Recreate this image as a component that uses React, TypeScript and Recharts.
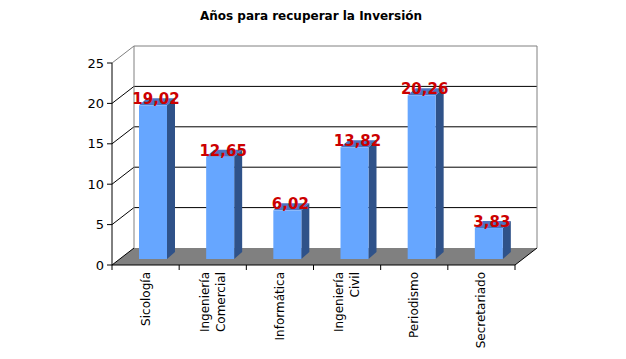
import React from "react";
import { BarChart, Bar, XAxis, YAxis, CartesianGrid, LabelList } from "recharts";

const categories = ["Sicología", "Ingeniería\nComercial", "Informática", "Ingeniería\nCivil", "Periodismo", "Secretariado"];
const years = [19.02, 12.65, 6.02, 13.82, 20.26, 3.83];
const yTicks = [0, 5, 10, 15, 20, 25];

const data = categories.map((c, i) => ({ name: c, value: years[i] }));

const FONT = "'DejaVu Sans', Verdana, sans-serif";
// depth of the back wall and position of the bars inside it
const DX = 22;
const DY = 17;
const BX = 7;
const BY = 6;
const BD = 8;
const BDY = 7;

const Bar3D = (props: any) => {
  const { x, y, width, height } = props;
  const fx = x + BX;
  const fy = y - BY;
  return (
    <g>
      <polygon
        points={`${fx},${fy} ${fx + BD},${fy - BDY} ${fx + width + BD},${fy - BDY} ${fx + width},${fy}`}
        fill="#4d74c2"
      />
      <polygon
        points={`${fx + width},${fy} ${fx + width + BD},${fy - BDY} ${fx + width + BD},${fy - BDY + height} ${fx + width},${fy + height}`}
        fill="#2f5289"
      />
      <rect x={fx} y={fy} width={width} height={height} fill="#66a6ff" />
    </g>
  );
};

const GridLine = (props: any) => {
  const { x1, y1, x2, index } = props;
  const top = props.y ?? 63;
  const bottom = top + (props.height ?? 202);
  const isTop = Math.abs(y1 - top) < 1;
  const isFloor = Math.abs(y1 - bottom) < 1;
  const col = isTop ? "#808080" : "#000";
  return (
    <g key={`g-${index}`}>
      {isFloor && (
        <polygon
          points={`${x1},${y1} ${x2},${y1} ${x2 + DX},${y1 - DY} ${x1 + DX},${y1 - DY}`}
          fill="#808080"
        />
      )}
      {isTop && (
        <>
          <line x1={x1 + DX} y1={y1 - DY} x2={x1 + DX} y2={bottom - DY} stroke="#808080" />
          <line x1={x2 + DX} y1={y1 - DY} x2={x2 + DX} y2={bottom - DY} stroke="#808080" />
        </>
      )}
      <line x1={x1} y1={y1} x2={x1 + DX} y2={y1 - DY} stroke={col} />
      {isFloor ? (
        <line x1={x2} y1={y1} x2={x2 + DX} y2={y1 - DY} stroke="#000" />
      ) : (
        <line x1={x1 + DX} y1={y1 - DY} x2={x2 + DX} y2={y1 - DY} stroke={col} />
      )}
    </g>
  );
};

const CategoryTick = (props: any) => {
  const { x, y, payload, index } = props;
  const band = 403 / categories.length;
  const lines = String(payload.value).split("\n");
  const lh = 16;
  return (
    <g>
      <line x1={x - band / 2} y1={y - 8} x2={x - band / 2} y2={y - 3} stroke="#000" />
      {index === categories.length - 1 && (
        <line x1={x + band / 2} y1={y - 8} x2={x + band / 2} y2={y - 3} stroke="#000" />
      )}
      {lines.map((l, i) => {
        const cx = x + (i - (lines.length - 1) / 2) * lh + 4;
        return (
          <text
            key={i}
            x={cx}
            y={272}
            transform={`rotate(-90 ${cx} 272)`}
            textAnchor="end"
            fontSize={12}
            fontFamily={FONT}
            fill="#000"
          >
            {l}
          </text>
        );
      })}
    </g>
  );
};

const ValueLabel = (props: any) => {
  const { x, y, width, value } = props;
  return (
    <text
      x={x + BX + width / 2 + 3}
      y={y - 7}
      textAnchor="middle"
      fontSize={15}
      fontWeight="bold"
      fontFamily={FONT}
      fill="#cc0000"
    >
      {Number(value).toFixed(2).replace(".", ",")}
    </text>
  );
};

export default function App() {
  return (
    <div style={{ position: "absolute", left: 0, top: 0, width: 626, height: 359, background: "#fff" }}>
      <div
        style={{
          position: "absolute",
          left: 0,
          top: 9,
          width: 622,
          textAlign: "center",
          fontFamily: FONT,
          fontWeight: "bold",
          fontSize: 12,
        }}
      >
        Años para recuperar la Inversión
      </div>
      <BarChart width={626} height={359} data={data} margin={{ top: 63, right: 111, bottom: 0, left: 0 }}>
        <CartesianGrid vertical={false} horizontal={GridLine} />
        <YAxis
          domain={[0, 25]}
          ticks={yTicks}
          width={112}
          interval={0}
          axisLine={{ stroke: "#000" }}
          tickLine={{ stroke: "#000" }}
          tickSize={5}
          tickMargin={3}
          tick={{ fontSize: 13, fill: "#000", fontFamily: FONT }}
        />
        <XAxis
          dataKey="name"
          height={94}
          interval={0}
          axisLine={{ stroke: "#000" }}
          tickLine={false}
          tick={<CategoryTick />}
        />
        <Bar dataKey="value" barSize={28} shape={<Bar3D />} isAnimationActive={false}>
          <LabelList dataKey="value" content={<ValueLabel />} />
        </Bar>
      </BarChart>
    </div>
  );
}
